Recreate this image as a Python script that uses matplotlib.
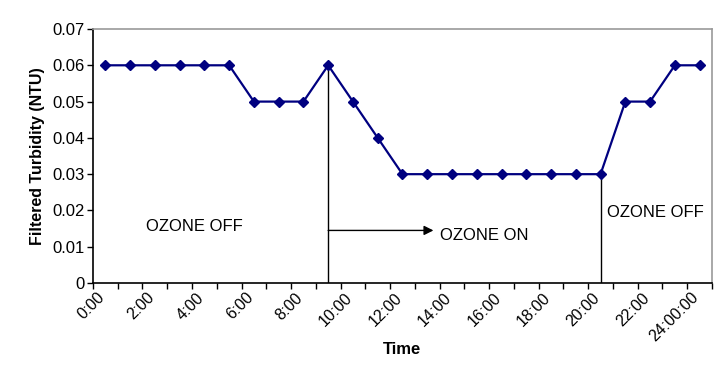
import matplotlib.pyplot as plt
import matplotlib.ticker as mticker
import matplotlib.transforms as mtransforms

plt.rcParams['font.family'] = ['Liberation Sans', 'DejaVu Sans']

# hourly filtered turbidity readings
hours = list(range(25))
turbidity = [0.06, 0.06, 0.06, 0.06, 0.06, 0.06,
             0.05, 0.05, 0.05,
             0.06, 0.05, 0.04,
             0.03, 0.03, 0.03, 0.03, 0.03, 0.03, 0.03, 0.03, 0.03,
             0.05, 0.05, 0.06, 0.06]
tick_labels = ['0:00', '2:00', '4:00', '6:00', '8:00', '10:00', '12:00',
               '14:00', '16:00', '18:00', '20:00', '22:00', '24:00:00']
ozone_on_hour = 9
ozone_off_hour = 20

fig = plt.figure(figsize=(7.28, 3.70), dpi=100)
ax = fig.add_axes([0.1277, 0.235, 0.8503, 0.6866])

NAVY = '#000080'
ax.plot(hours, turbidity, color=NAVY, lw=1.6, marker='D', ms=5.5,
        markerfacecolor=NAVY, markeredgecolor=NAVY, zorder=3)

# ozone switch markers
ax.plot([ozone_on_hour, ozone_on_hour], [0, turbidity[ozone_on_hour]], color='black', lw=1, zorder=2)
ax.plot([ozone_off_hour, ozone_off_hour], [0, turbidity[ozone_off_hour]], color='black', lw=1, zorder=2)
ax.annotate('', xy=(13.25, 0.0145), xytext=(ozone_on_hour, 0.0145),
            arrowprops=dict(arrowstyle='-|>', color='black', lw=1, mutation_scale=14,
                            shrinkA=0, shrinkB=0))
ax.text(3.6, 0.0157, 'OZONE OFF', fontsize=12, ha='center', va='center')
ax.text(13.5, 0.0132, 'OZONE ON', fontsize=12, ha='left', va='center')
ax.text(20.25, 0.0195, 'OZONE OFF', fontsize=12, ha='left', va='center')

ax.set_xlim(-0.5, 24.5)
ax.set_ylim(0, 0.07)
ax.yaxis.set_major_locator(mticker.MultipleLocator(0.01))
ax.yaxis.set_major_formatter(mticker.FuncFormatter(lambda v, p: '0' if abs(v) < 1e-9 else f'{v:.2f}'))
ax.tick_params(axis='y', labelsize=12, length=4, width=1, direction='out', pad=2)

# category-style x axis: tick marks between categories, labels on every other hour
ax.set_xticks([h - 0.5 for h in hours] + [24.5])
ax.set_xticklabels([])
ax.tick_params(axis='x', which='major', length=4, width=1, direction='out')
ax.set_xticks(hours[::2], minor=True)
ax.set_xticklabels(tick_labels, minor=True, rotation=45, ha='right',
                   rotation_mode='anchor', fontsize=11.5)
ax.tick_params(axis='x', which='minor', length=0, pad=5)
shift = mtransforms.ScaledTranslation(-6 / 72, 0, fig.dpi_scale_trans)
for lbl in ax.get_xticklabels(minor=True):
    lbl.set_transform(lbl.get_transform() + shift)

ax.set_xlabel('Time', fontsize=12, fontweight='bold', labelpad=-2)
ax.set_ylabel('Filtered Turbidity (NTU)', fontsize=11.5, fontweight='bold', labelpad=5)

for side in ['top', 'right']:
    ax.spines[side].set_color('#999999')
    ax.spines[side].set_linewidth(1.2)
for side in ['left', 'bottom']:
    ax.spines[side].set_color('black')
    ax.spines[side].set_linewidth(1.2)

fig.savefig('out.png', dpi=100)
